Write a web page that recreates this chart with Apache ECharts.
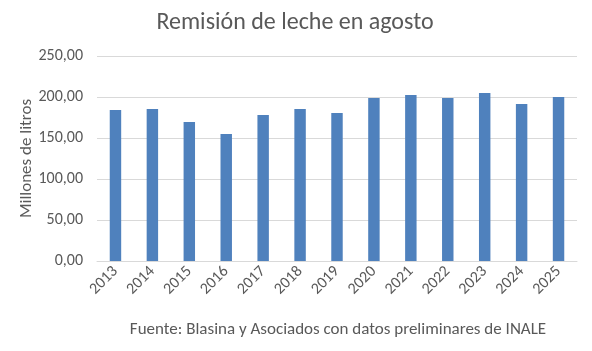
<!DOCTYPE html>
<html><head><meta charset="utf-8">
<script src="https://cdn.jsdelivr.net/npm/echarts@6/dist/echarts.min.js"></script>
<style>html,body{margin:0;padding:0;background:#fff}#c{width:592px;height:351px}</style>
</head><body><div id="c"></div>
<script>
const categories = ['2013','2014','2015','2016','2017','2018','2019','2020','2021','2022','2023','2024','2025'];
const values = [184.1, 185.4, 169.5, 154.9, 178.0, 185.4, 180.5, 198.8, 202.4, 198.8, 204.9, 191.5, 200.0];
const titleText = 'Remisión de leche en agosto';
const yAxisName = 'Millones de litros';
const sourceText = 'Fuente: Blasina y Asociados con datos preliminares de INALE';

const chart = echarts.init(document.getElementById('c'), null, {renderer:'canvas'});
const font = 'Calibri, Carlito, "Liberation Sans", "Open Sans", sans-serif';
chart.setOption({
  animation:false,
  backgroundColor:'#fff',
  title:[{text:titleText,left:290,top:6,textAlign:'center',textStyle:{fontFamily:font,fontSize:24,fontWeight:'normal',color:'#595959'}},
         {text:sourceText,left:333,top:316,textAlign:'center',textStyle:{fontFamily:font,fontSize:17,fontWeight:'normal',color:'#595959'}}],
  grid:{left:97,right:15,top:56,bottom:90},
  xAxis:{type:'category',data:categories,
    axisLine:{lineStyle:{color:'#d9d9d9'}},axisTick:{show:false},
    axisLabel:{rotate:45,color:'#595959',fontFamily:font,fontSize:16,margin:8}},
  yAxis:{type:'value',min:0,max:250,interval:50,name:yAxisName,nameLocation:'middle',nameGap:62,nameMoveOverlap:false,
    nameTextStyle:{color:'#595959',fontFamily:font,fontSize:17},
    axisLine:{show:false},axisTick:{show:false},
    splitLine:{lineStyle:{color:'#d9d9d9'}},
    axisLabel:{color:'#595959',fontFamily:font,fontSize:16,margin:14,formatter:v=>v.toFixed(2).replace('.',',')}},
  series:[{type:'bar',data:values,barWidth:'31%',itemStyle:{color:'#4f81bd'}}]
});
</script></body></html>
